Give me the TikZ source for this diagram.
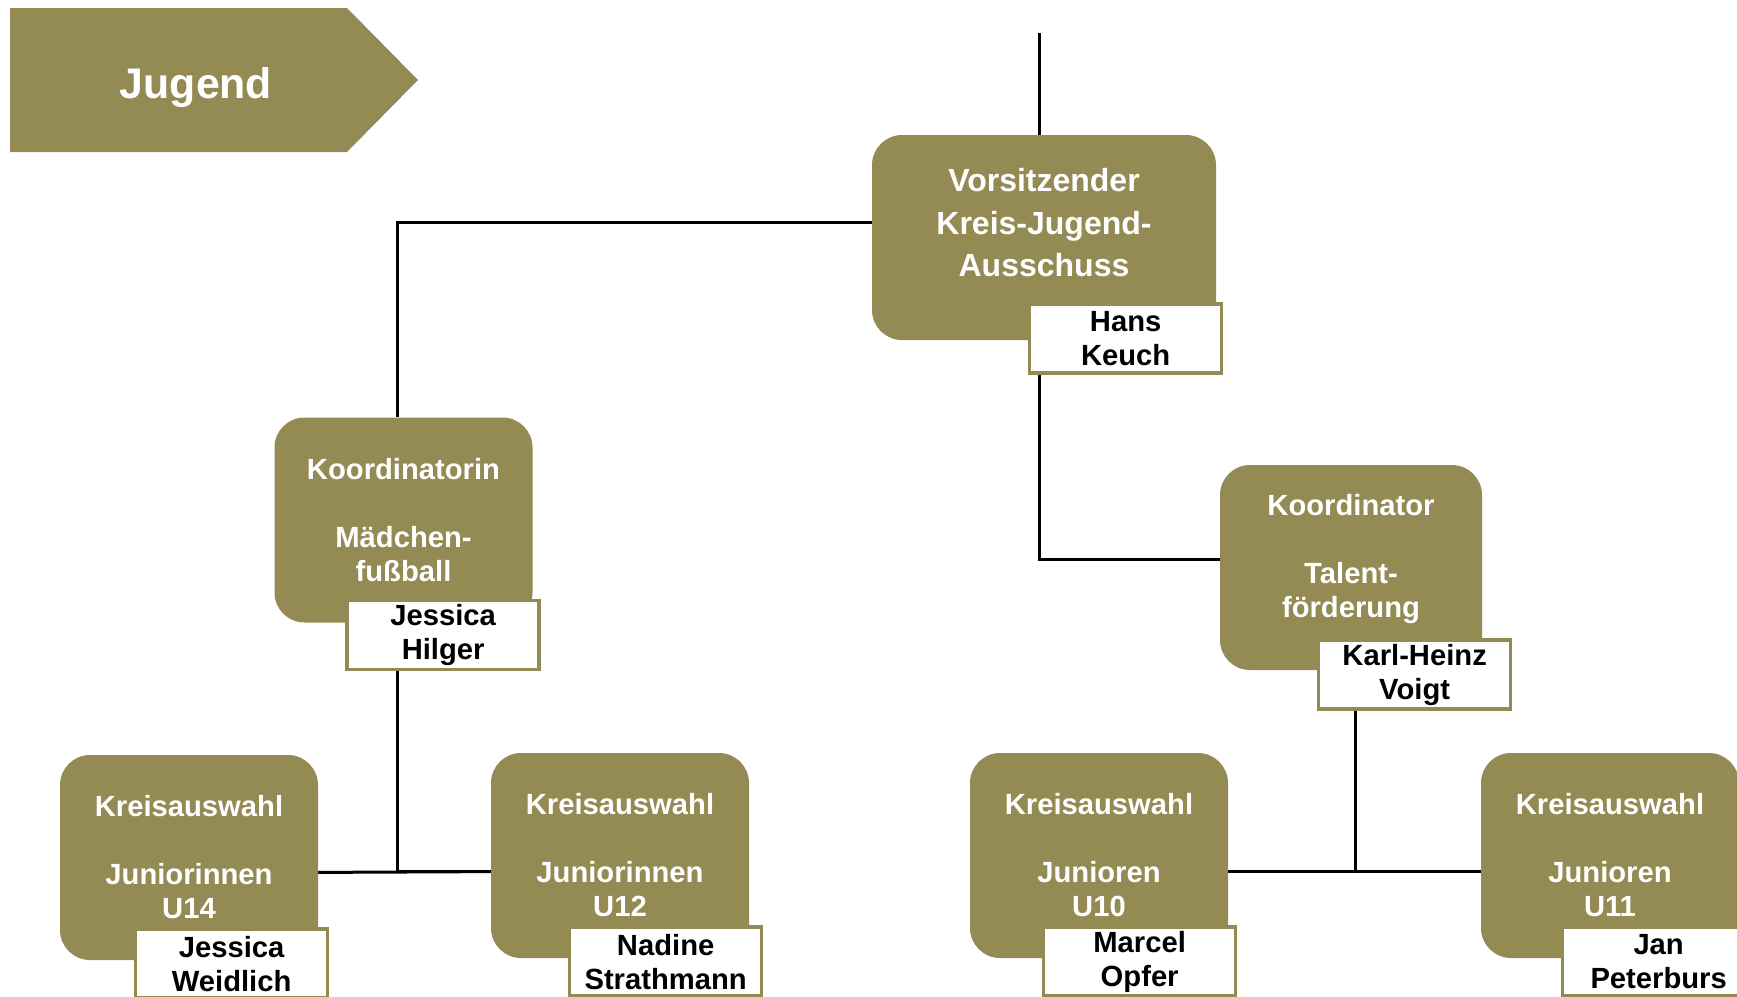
\documentclass[tikz,border=0pt]{standalone}
\usepackage{fontspec}
\setmainfont{Liberation Sans}
\usetikzlibrary{positioning,backgrounds}
\definecolor{JugendOlive}{HTML}{948A54}
\tikzset{
  unitbox/.style={fill=JugendOlive,rounded corners=15pt,minimum width=129pt,
    minimum height=102.5pt,inner sep=0pt,text=white,align=center,
    font=\bfseries\fontsize{14.6}{17}\selectfont},
  namebox/.style={fill=white,draw=JugendOlive,line width=1.75pt,minimum width=96pt,
    minimum height=34.5pt,inner sep=0pt,align=center,anchor=north east,
    font=\bfseries\fontsize{14.6}{17}\selectfont},
  linkline/.style={draw=black,line width=1.5pt}
}

\begin{document}
\begin{tikzpicture}[x=0.5pt,y=-0.5pt]
  \useasboundingbox (0,0) rectangle (1737,997);
  \clip (0,0) rectangle (1737,997);
  % title banner
  \fill[JugendOlive] (10,8) -- (347,8) -- (418,80) -- (347,152) -- (10,152) -- cycle;
  \node[anchor=base,text=white,font=\bfseries\fontsize{21.4}{25}\selectfont]
    (jugend) at (196,98) {Jugend};

  \node[unitbox,minimum width=172pt,text depth=15pt,
    font=\bfseries\fontsize{16}{21.25}\selectfont]
    (vors) at (1044,237.5) {Vorsitzender\\Kreis-Jugend-\\Ausschuss};
  \node[unitbox] (girls) at (403.5,520) {Koordinatorin\\[17pt]Mädchen-\\fußball};
  \node[unitbox,minimum width=131pt,text depth=12pt]
    (talent) at (1351,567.5) {Koordinator\\[17pt]Talent-\\förderung};
  \node[unitbox] (u14) at (189,857.5) {Kreisauswahl\\[17pt]Juniorinnen\\U14};
  \node[unitbox] (u12) at (620,855.5) {Kreisauswahl\\[17pt]Juniorinnen\\U12};
  \node[unitbox] (u10) at (1099,855.5) {Kreisauswahl\\[17pt]Junioren\\U10};
  \node[unitbox] (u11) at (1610,855.5) {Kreisauswahl\\[17pt]Junioren\\U11};

  \node[namebox] (hans) at ([shift={(7,-38)}]vors.south east) {Hans\\Keuch};
  \node[namebox] (hilger) at ([shift={(8,-24)}]girls.south east) {Jessica\\Hilger};
  \node[namebox] (voigt) at ([shift={(30,-32)}]talent.south east) {Karl-Heinz\\Voigt};
  \node[namebox] (weidlich) at ([shift={(11,-33)}]u14.south east) {Jessica\\Weidlich};
  \node[namebox] (strathmann) at ([shift={(14,-33)}]u12.south east) {Nadine\\Strathmann};
  \node[namebox] (opfer) at ([shift={(9,-33)}]u10.south east) {Marcel\\Opfer};
  \node[namebox] (peterburs) at ([shift={(17,-33)}]u11.south east) {Jan\\Peterburs};

  % connectors behind the boxes
  \begin{scope}[on background layer]
    \coordinate (top) at (1039,33);
    \draw[linkline] (top) |- ([yshift=4pt]talent.west);
    \draw[linkline] ([yshift=7.5pt]vors.west) -| ([xshift=-3.25pt]girls.north);
    \draw[linkline] ([xshift=-3.25pt]girls.center) |- ([yshift=-7.75pt]u12.center);
    \draw[linkline] ([yshift=-7.75pt]u14.center) -- ([yshift=-7.75pt]u12.center);
    \draw[linkline] ([xshift=2pt]talent.center) |- ([yshift=-7.75pt]u11.center);
    \draw[linkline] ([yshift=-7.75pt]u10.center) -- ([yshift=-7.75pt]u11.center);
  \end{scope}
\end{tikzpicture}
\end{document}
